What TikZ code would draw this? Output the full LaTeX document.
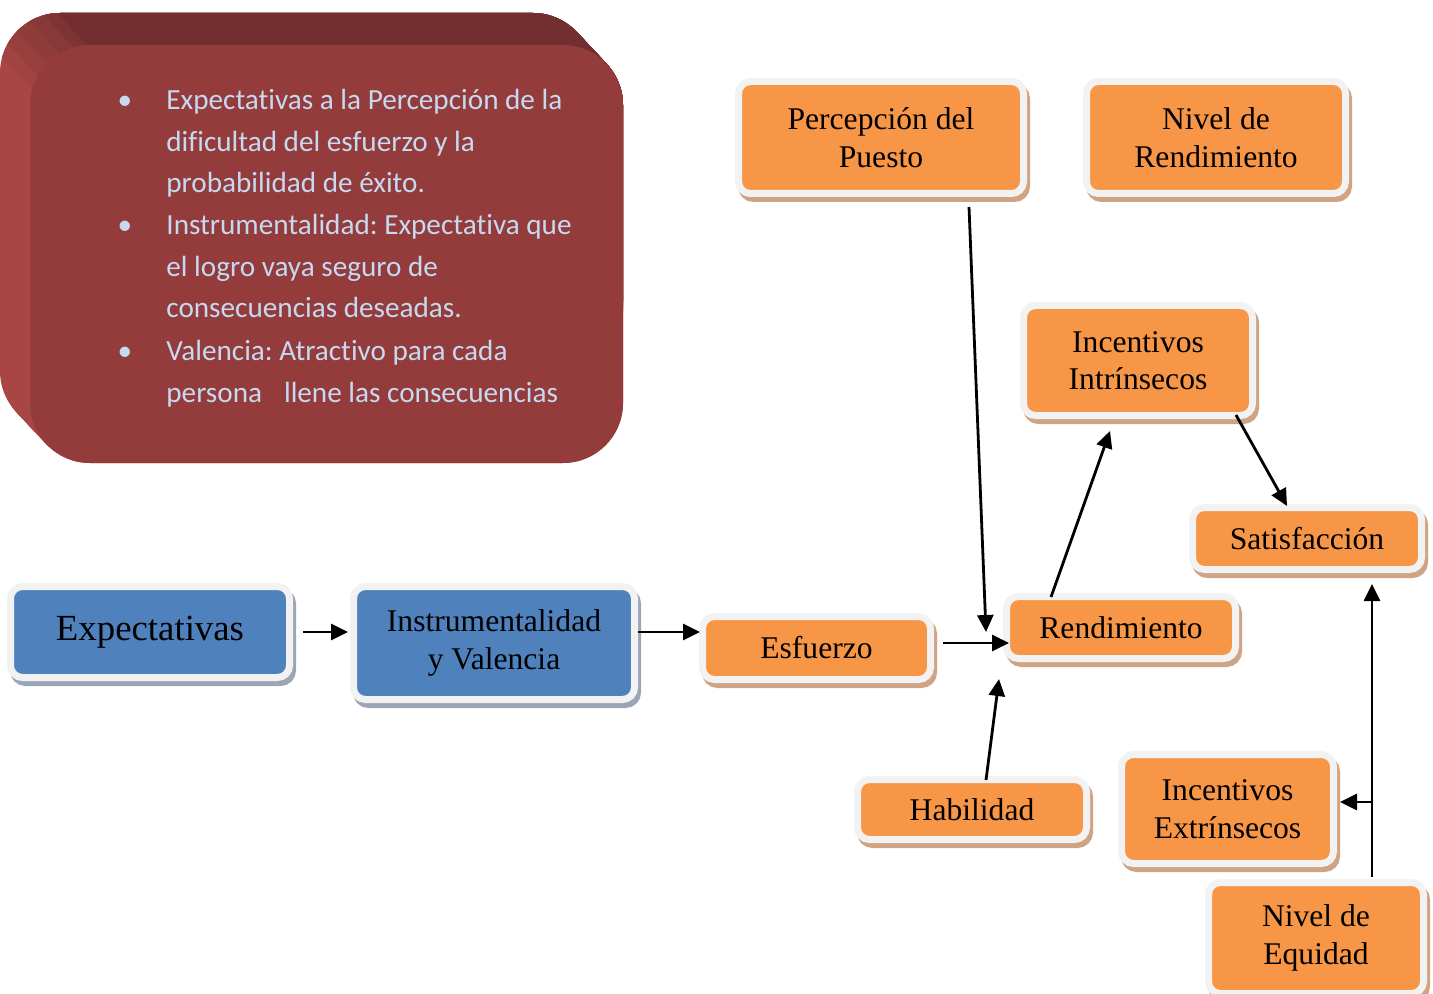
\documentclass[tikz,border=0pt]{standalone}
\usepackage{fontspec}
\setmainfont{Liberation Serif}
\newfontfamily\notefont[Ligatures=NoCommon]{Carlito}
\usetikzlibrary{arrows.meta,calc}
\frenchspacing

\definecolor{boxorange}{HTML}{F79646}
\definecolor{boxblue}{HTML}{4F81BD}
\definecolor{rimwhite}{HTML}{F2F2F2}
\definecolor{tanshadow}{HTML}{D0A382}
\definecolor{blueshadow}{HTML}{9AA5B5}
\definecolor{redfront}{HTML}{943C3B}
\definecolor{redtop}{HTML}{732F2F}
\definecolor{redside}{HTML}{A84645}
\definecolor{paletext}{HTML}{C6D9F1}

\tikzset{
  wh/.style 2 args={minimum width={#1*0.5pt}, minimum height={#2*0.5pt}},
  box/.style={rounded corners=6pt, draw=rimwhite, line width=3.5pt, inner sep=0pt,
    align=center, text=black, font=\fontsize{15.8}{18.8}\selectfont},
  orangebox/.style={box, fill=boxorange,
    preaction={fill=tanshadow, draw=tanshadow, transform canvas={shift={(1.5pt,-2.5pt)}}}},
  bluebox/.style={box, fill=boxblue,
    preaction={fill=blueshadow, draw=blueshadow, transform canvas={shift={(1.5pt,-2.5pt)}}}},
  arr/.style={-{Triangle[length=8.5pt,width=8pt]}, line width=1.4pt, black},
  notetext/.style={anchor=base west, inner sep=0pt, text=paletext,
    font=\notefont\fontsize{14.6}{17}\selectfont},
  notebullet/.style={anchor=base, inner sep=0pt, text=paletext,
    font=\notefont\fontsize{14.6}{17}\selectfont},
}

\begin{document}
\begin{tikzpicture}[x=0.5pt,y=-0.5pt]
\useasboundingbox (0,0) rectangle (1433,994);
\clip (0,0) rectangle (1433,994);

% extruded note panel: side faces, shaded around the upper-left corner
\foreach \k in {0,...,30}{
  \fill[redside, rounded corners=30pt] ({\k},{13+\k*32/30}) rectangle ++(593,418);
}
\foreach \ang/\mix in {195/85, 210/70, 225/55, 240/40, 255/22, 268/0}{
  \begin{scope}
    % region above the line through the corner point, parallel to the extrusion
    \path ({90+60*cos(\ang)},{105+60*sin(\ang)}) coordinate (cp);
    \clip ($(cp)+(-90,-96)$) -- ($(cp)+(240,256)$) -- (760,300) -- (760,-80) -- (-120,-80) -- cycle;
    \foreach \k in {0,...,30}{
      \fill[redside!\mix!redtop, rounded corners=30pt] ({\k},{13+\k*32/30}) rectangle ++(593,418);
    }
  \end{scope}
}
\fill[redfront, rounded corners=30pt] (30,45) rectangle (623,463);

% bullet list on the panel
\node[notebullet] (b1) at (125,110) {•};
\node[notetext] (t1) at (166,110) {Expectativas a la Percepción de la};
\node[notetext] (t2) at (166,151.5) {dificultad del esfuerzo y la};
\node[notetext] (t3) at (166,193) {probabilidad de éxito.};
\node[notebullet] (b2) at (125,235) {•};
\node[notetext] (t4) at (166,235) {Instrumentalidad: Expectativa que};
\node[notetext] (t5) at (166,276.5) {el logro vaya seguro de};
\node[notetext] (t6) at (166,318) {consecuencias deseadas.};
\node[notebullet] (b3) at (125,360) {•};
\node[notetext] (t7) at (166,360) {Valencia: Atractivo para cada};
\node[notetext] (t8) at (166,402) {persona\hspace{11pt}llene las consecuencias};

% concept boxes
\node[bluebox, wh={279}{91}] (expect) at (150,632) {\fontsize{18.4}{22}\selectfont Expectativas};
\node[bluebox, wh={281}{113}] (instr) at (494,643) {Instrumentalidad\\y Valencia};
\node[orangebox, wh={228}{63}] (esf) at (816.5,648) {Esfuerzo};
\node[orangebox, wh={229}{62}] (rend) at (1121,627.5) {Rendimiento};
\node[orangebox, wh={285}{112}] (perc) at (881,137.5) {Percepción del\\Puesto};
\node[orangebox, wh={259}{112}] (nrend) at (1216,137.5) {Nivel de\\Rendimiento};
\node[orangebox, wh={229}{110}] (intr) at (1138,360.5) {Incentivos\\Intrínsecos};
\node[orangebox, wh={229}{62}] (satis) at (1307,538.5) {Satisfacción};
\node[orangebox, wh={229}{60}] (hab) at (972,809.5) {Habilidad};
\node[orangebox, wh={212}{109}] (extr) at (1227.5,809) {Incentivos\\Extrínsecos};
\node[orangebox, wh={215}{111}] (equid) at (1316,938) {Nivel de\\Equidad};

% connectors
\coordinate (rowA) at (0,632);
\coordinate (rowB) at (0,643);
\coordinate (rowC) at (0,802);
\draw[arr, shorten <=5pt, shorten >=1pt] (expect.east |- rowA) -- (instr.west |- rowA);
\draw[arr, shorten >=-0.5pt] (instr.east |- rowA) -- (esf.west |- rowA);
\draw[arr, shorten <=4.5pt, shorten >=-3pt] (esf.east |- rowB) -- (rend.west |- rowB);
\draw[arr] ($(perc.south)+(88,10)$) -- ($(rend.west)+(-17,4.5)$);
\draw[arr] ($(hab.north)+(14,4)$) -- ($(rend.west)+(-4,51.5)$);
\draw[arr] ($(rend.north)+(-70,4)$) -- ($(intr.south)+(-28,12)$);
\draw[arr] ($(intr.south east)+(-20,-4)$) -- ($(satis.north)+(-20,2)$);
\coordinate (eqTop) at ($(equid.north)+(56,-2)$);
\draw[arr] (eqTop) -- ($(satis.south)+(65,11)$);
\draw[arr, shorten >=1.5pt] (eqTop |- rowC) -- (extr.east |- rowC);
\end{tikzpicture}
\end{document}
